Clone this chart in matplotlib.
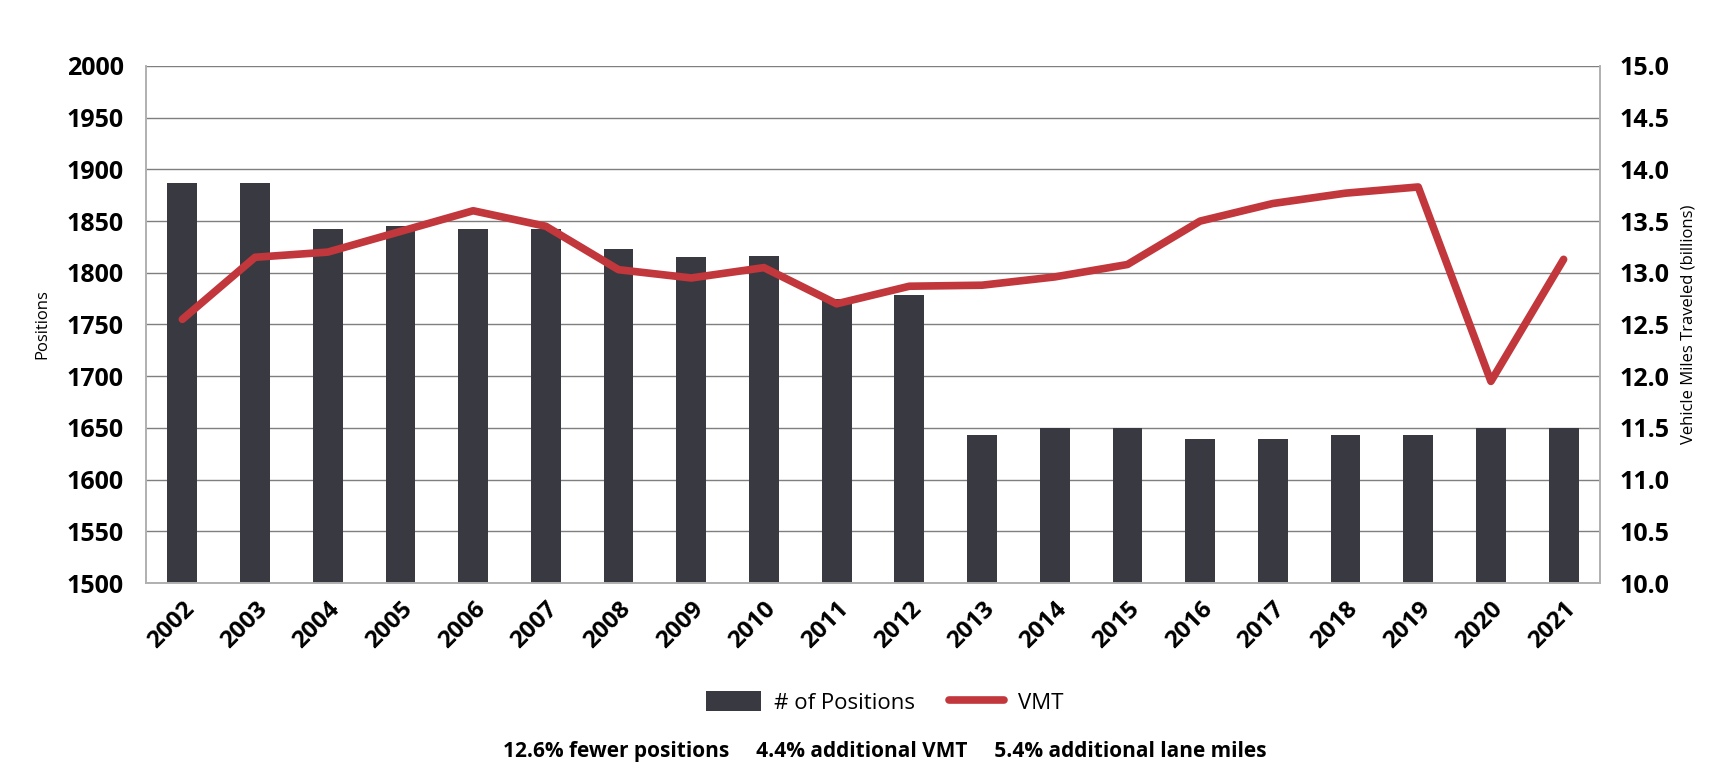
import matplotlib
matplotlib.use('Agg')
from matplotlib import pyplot as plt
import numpy as np

plt.rcParams['font.family'] = ['Open Sans', 'DejaVu Sans']

years = ['2002', '2003', '2004', '2005', '2006', '2007', '2008', '2009', '2010', '2011',
         '2012', '2013', '2014', '2015', '2016', '2017', '2018', '2019', '2020', '2021']
positions = [1887, 1887, 1842, 1845, 1842, 1842, 1823, 1815, 1816, 1775,
             1779, 1643, 1650, 1650, 1639, 1639, 1643, 1643, 1650, 1650]
vmt = [12.55, 13.15, 13.2, 13.4, 13.6, 13.45, 13.03, 12.95, 13.05, 12.7,
       12.87, 12.88, 12.96, 13.08, 13.5, 13.67, 13.77, 13.83, 11.95, 13.13]
left_ticks = [1500, 1550, 1600, 1650, 1700, 1750, 1800, 1850, 1900, 1950, 2000]
right_ticks = [10.0, 10.5, 11.0, 11.5, 12.0, 12.5, 13.0, 13.5, 14.0, 14.5, 15.0]
footnote = '12.6% fewer positions     4.4% additional VMT     5.4% additional lane miles'

bar_color = '#393a41'
line_color = '#c1373c'
grid_color = '#7f7f7f'

fig = plt.figure(figsize=(17.34, 7.79), dpi=100)
ax = fig.add_axes([0.0842, 0.2516, 0.8385, 0.6637])
ax2 = ax.twinx()

x = np.arange(len(years))
bars = ax.bar(x, positions, width=0.41, color=bar_color, zorder=2, label='# of Positions')
ax.set_ylim(1500, 2000)
ax.set_xlim(-0.5, len(years) - 0.5)
ax.set_yticks(left_ticks)
ax.set_yticklabels([str(t) for t in left_ticks], fontsize=18, fontweight='bold')
ax.set_xticks(x)
ax.set_xticklabels(years, rotation=45, ha='right', rotation_mode='anchor',
                   fontsize=17.5, fontweight='bold')
ax.tick_params(axis='both', length=0, pad=16)
ax.tick_params(axis='x', pad=10)
ax.yaxis.grid(True, color=grid_color, linewidth=1.0, zorder=0)
ax.set_axisbelow(True)
ax.set_ylabel('Positions', fontsize=12, labelpad=12)

line, = ax2.plot(x, vmt, color=line_color, linewidth=5.5, solid_capstyle='round',
                 solid_joinstyle='round', zorder=3, label='VMT')
ax2.set_ylim(10.0, 15.0)
ax2.set_yticks(right_ticks)
ax2.set_yticklabels(['%.1f' % t for t in right_ticks], fontsize=18, fontweight='bold')
ax2.tick_params(axis='y', length=0, pad=14)
ax2.set_ylabel('Vehicle Miles Traveled (billions)', fontsize=12, labelpad=8)

for a in (ax, ax2):
    a.spines['top'].set_visible(False)
    for s in ('left', 'right', 'bottom'):
        a.spines[s].set_color('#b0b0b0')
        a.spines[s].set_linewidth(1.2)

fig.legend([bars, line], ['# of Positions', 'VMT'], loc='center', ncol=2,
           bbox_to_anchor=(0.51, 0.098), frameon=False, fontsize=16,
           handlelength=2.5, handleheight=1.0, columnspacing=1.5, handletextpad=0.6)

fig.text(0.51, 0.035, footnote, ha='center', va='center', fontsize=15, fontweight='bold')

plt.savefig('out.png', dpi=100)
